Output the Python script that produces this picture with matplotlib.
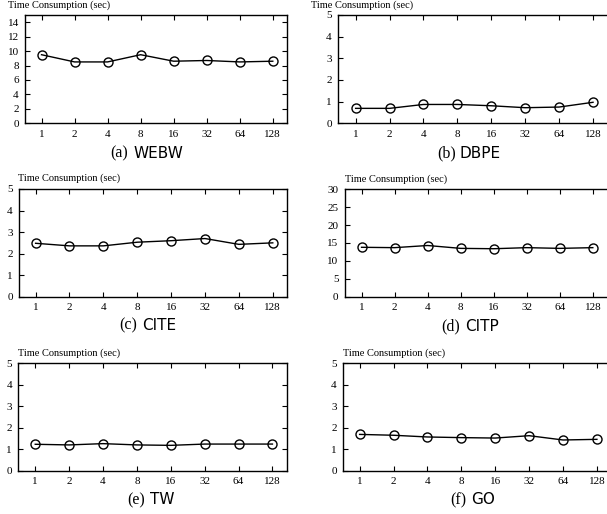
import matplotlib
matplotlib.use("Agg")
import matplotlib.pyplot as plt

W, H = 607, 514

threads = ["1", "2", "4", "8", "16", "32", "64", "128"]
webw = [9.5, 8.5, 8.5, 9.5, 8.6, 8.7, 8.5, 8.6]
dbpe = [0.69, 0.69, 0.87, 0.87, 0.81, 0.72, 0.75, 0.97]
cite = [2.48, 2.36, 2.36, 2.53, 2.60, 2.70, 2.43, 2.50]
citp = [13.8, 13.7, 14.3, 13.5, 13.4, 13.7, 13.5, 13.7]
tw = [1.23, 1.20, 1.26, 1.20, 1.18, 1.24, 1.24, 1.24]
go = [1.69, 1.65, 1.57, 1.54, 1.52, 1.63, 1.43, 1.46]

letters = ["(a)", "(b)", "(c)", "(d)", "(e)", "(f)"]
names = ["WEBW", "DBPE", "CITE", "CITP", "TW", "GO"]
series = [webw, dbpe, cite, citp, tw, go]
ymax = [15, 5, 5, 30, 5, 5]
ystep = [2, 1, 1, 5, 1, 1]
ylabel_text = "Time Consumption (sec)"

# axes boxes in pixels: left, top, right, bottom
boxes = [
    (25, 15, 287, 123.3),
    (338, 15, 611, 123.3),
    (19, 189, 287, 296.7),
    (344.7, 189.3, 611, 296.7),
    (18.3, 363.3, 287, 470.7),
    (343, 363.3, 611.5, 470.7),
]
xlims = [(-0.5, 7.43), (-0.52, 7.53), (-0.49, 7.42),
         (-0.51, 7.55), (-0.5, 7.43), (-0.49, 7.43)]
# ylabel text positions (left x, center y)
ylab_pos = [(8, 5), (311, 5), (18.3, 178.3), (344.7, 179), (18.3, 353.3), (343, 353.3)]
# caption positions: end of letter, start of name, center y
cap_pos = [(128, 133, 153), (456, 459.7, 153), (136.7, 141.7, 325),
           (459.7, 464.7, 326.7), (145, 150, 500), (466.3, 471.3, 500)]

serif = "Liberation Serif"
sans = "DejaVu Sans"

fig = plt.figure(figsize=(W / 100, H / 100), dpi=100)

for i in range(6):
    l, t, r, b = boxes[i]
    ax = fig.add_axes([l / W, 1 - b / H, (r - l) / W, (b - t) / H])
    x = list(range(len(threads)))
    ax.plot(x, series[i], color="black", lw=1.0, marker="o", markersize=6.5,
            markerfacecolor="none", markeredgecolor="black", markeredgewidth=1.0)
    ax.set_xlim(*xlims[i])
    ax.set_ylim(0, ymax[i])
    ax.set_xticks(x)
    ax.set_xticklabels(threads, fontfamily=serif, fontsize=8)
    yt = list(range(0, ymax[i] + 1, ystep[i]))
    if ymax[i] == 15:
        yt = list(range(0, 15, 2))
    ax.set_yticks(yt)
    ax.set_yticklabels([str(v) for v in yt], fontfamily=serif, fontsize=8)
    ax.tick_params(direction="in", length=3.5, width=0.8, top=True,
                   right=(i % 2 == 0), pad=4.5, colors="black")
    for s in ax.spines.values():
        s.set_linewidth(1.0)
        s.set_color("black")
    fig.text(ylab_pos[i][0] / W, 1 - ylab_pos[i][1] / H, ylabel_text,
             fontfamily=serif, fontsize=7.5, ha="left", va="center")
    le, ns, cy = cap_pos[i]
    fig.text(le / W, 1 - cy / H, letters[i], fontfamily=serif, fontsize=11.5,
             ha="right", va="center")
    fig.text(ns / W, 1 - cy / H, names[i], fontfamily=sans, fontsize=11,
             ha="left", va="center")

fig.savefig("out.png", dpi=100)
